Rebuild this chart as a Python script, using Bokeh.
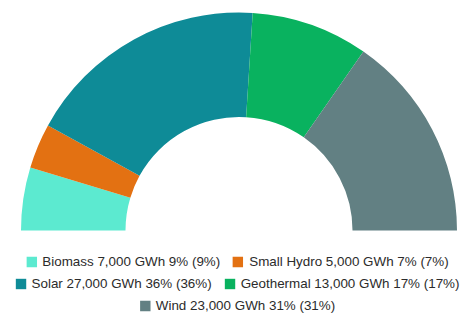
import math
from bokeh.plotting import figure
from bokeh.models import Range1d, ColumnDataSource, Legend, LegendItem
from bokeh.embed import file_html
from bokeh.resources import INLINE

categories = ["Biomass", "Small Hydro", "Solar", "Geothermal", "Wind"]
values = [7000, 5000, 27000, 13000, 23000]
unit = "GWh"
colors = ["#5CEAD0", "#E37112", "#0E8B97", "#09B25F", "#628083"]

total = sum(values)
starts, ends, labels = [], [], []
cum = 0.0
for v, c in zip(values, categories):
    f0 = cum / total
    cum += v
    f1 = cum / total
    # half donut, drawn clockwise from the left (180deg) to the right (0deg)
    starts.append(math.pi - f1 * math.pi)
    ends.append(math.pi - f0 * math.pi)
    pct = round(v / total * 100)
    labels.append(f"{c} {v:,} {unit} {pct}% ({pct}%)")

W, H = 473, 313
cx, cy = 238.5, 83.0
r_out, r_in = 218.0, 113.5

src = ColumnDataSource(dict(start=starts, end=ends, color=colors, label=labels))

p = figure(width=W, height=H, output_backend="svg", toolbar_location=None,
           x_range=Range1d(0, W), y_range=Range1d(0, H),
           min_border=0, outline_line_color=None)
p.axis.visible = False
p.grid.visible = False
p.background_fill_color = "white"
p.border_fill_color = "white"

r = p.annular_wedge(x=cx, y=cy, inner_radius=r_in, outer_radius=r_out,
                    start_angle="start", end_angle="end", direction="anticlock",
                    fill_color="color", line_color=None, source=src)

rows = [[0, 1], [2, 3], [4]]
margins = [44, 22, 0]
for row, m in zip(rows, margins):
    items = [LegendItem(label=labels[i], renderers=[r], index=i) for i in row]
    lg = Legend(items=items, orientation="horizontal", location="bottom_center",
                margin=m, padding=0, spacing=11, label_standoff=5,
                glyph_width=13, glyph_height=13, label_height=13,
                label_text_font="Liberation Sans", label_text_font_size="13.4px",
                label_text_color="#2b2b2b", background_fill_alpha=0,
                border_line_alpha=0)
    p.add_layout(lg)

open("out.html", "w").write(file_html(p, INLINE))
